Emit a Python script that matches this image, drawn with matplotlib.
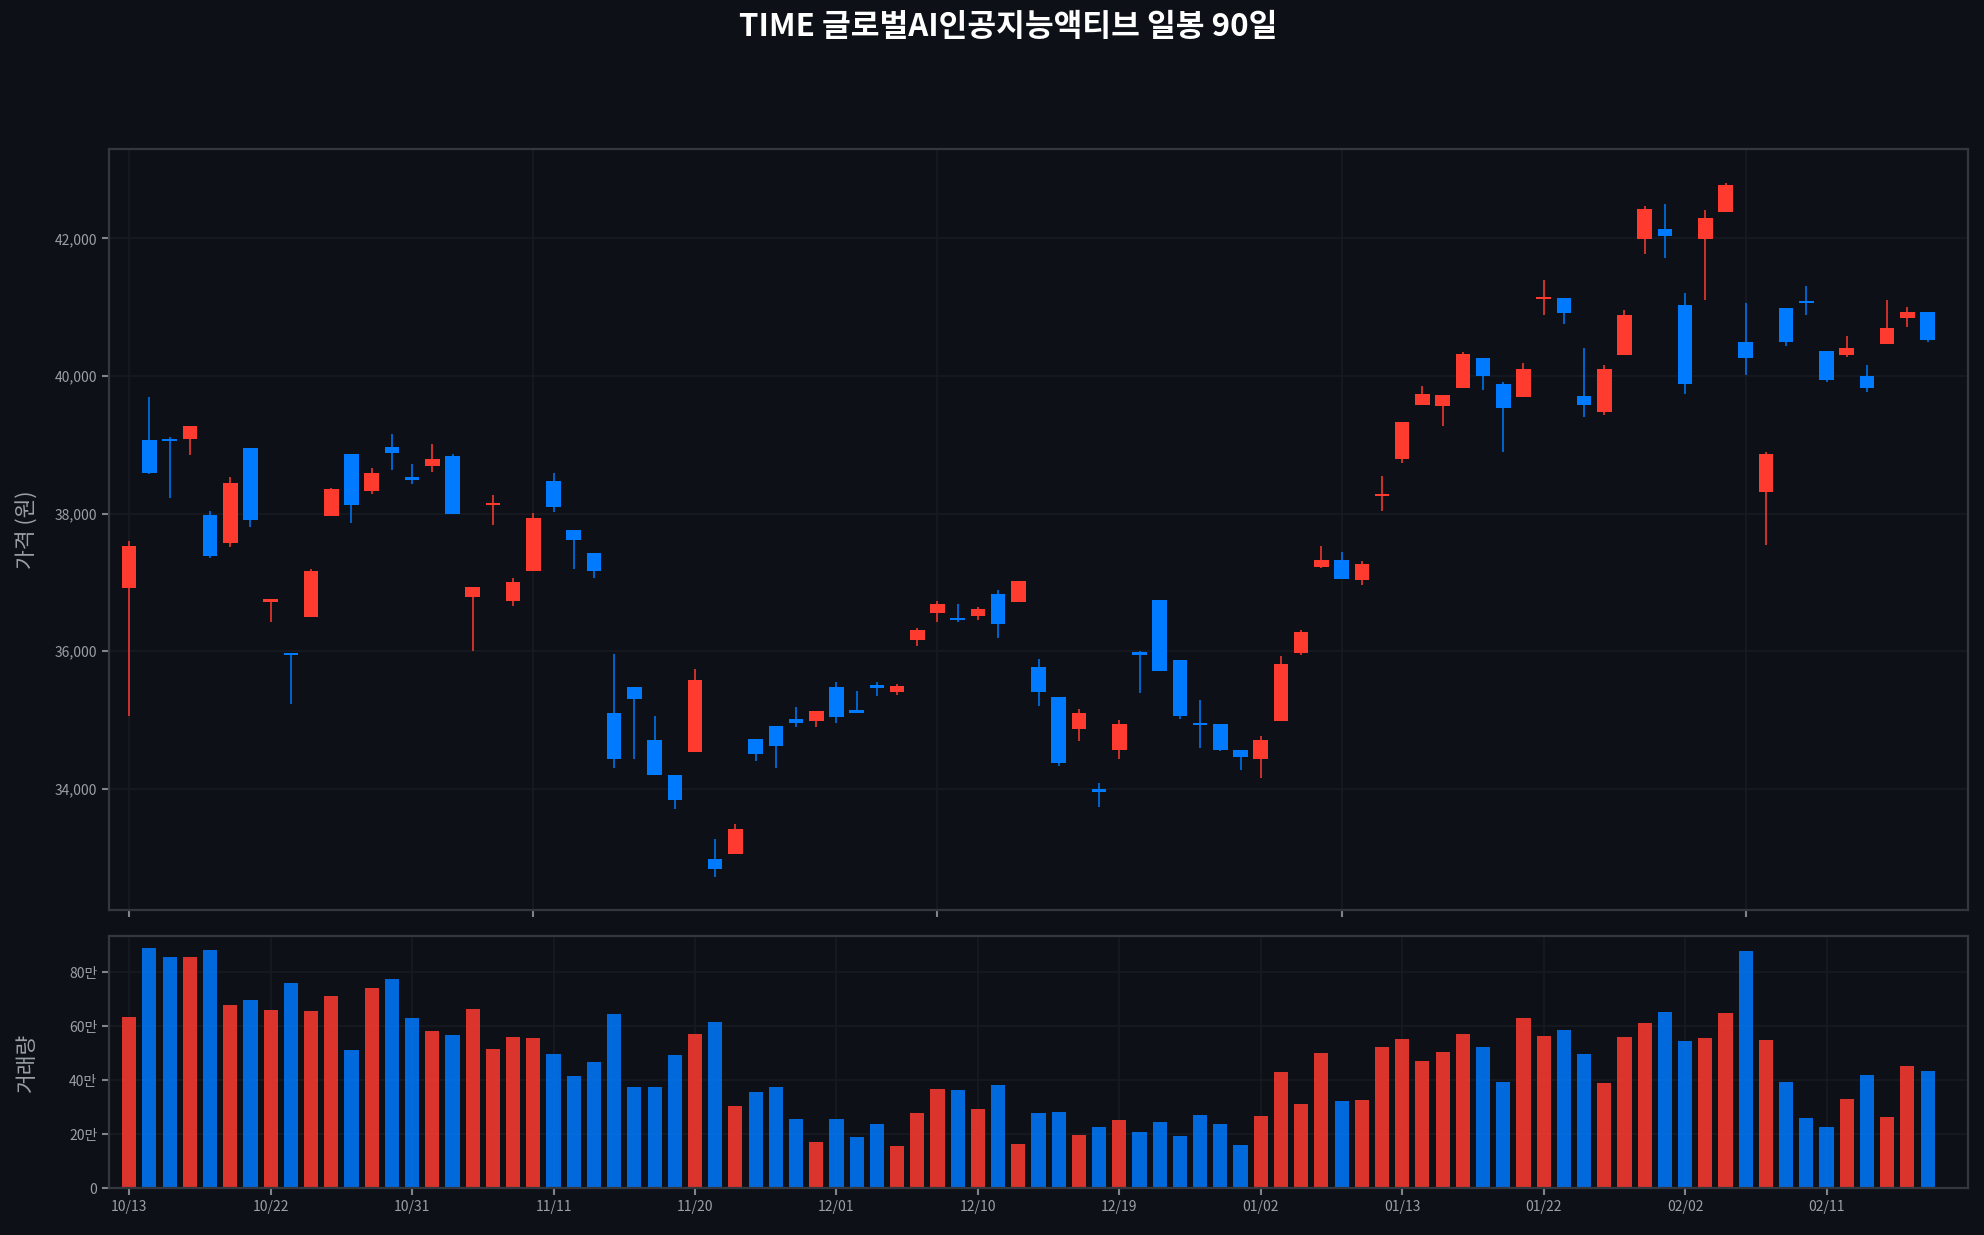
import numpy as np
import matplotlib
matplotlib.use('Agg')
import matplotlib.pyplot as plt
from matplotlib.ticker import FuncFormatter

plt.rcParams['font.family'] = ['Noto Sans CJK KR', 'DejaVu Sans']

# Daily OHLC (KRW), 90 trading days
opens = [36920, 39070, 39085, 39090, 37980, 37580, 38955, 36710, 35975, 36500,
         37970, 38870, 38330, 38970, 38540, 38700, 38840, 36790, 38120, 36730,
         37160, 38480, 37760, 37430, 35100, 35480, 34710, 34200, 34530, 32980,
         33060, 34720, 34910, 35010, 34990, 35480, 35130, 35500, 35410, 36170,
         36560, 36480, 36520, 36830, 36720, 35770, 35330, 34870, 33980, 34570,
         35970, 36740, 35870, 34950, 34940, 34560, 34440, 34990, 35970, 37230,
         37330, 37040, 38250, 38790, 39580, 39570, 39830, 40260, 39880, 39700,
         41120, 41130, 39710, 39480, 40310, 41990, 42140, 41030, 41990, 42380,
         40500, 38320, 40990, 41080, 40370, 40310, 40000, 40470, 40850, 40930]
highs = [37600, 39690, 39110, 39270, 38040, 38540, 38960, 36760, 35980, 37200,
         38380, 38870, 38670, 39160, 38720, 39010, 38870, 36930, 38270, 37070,
         38010, 38590, 37760, 37430, 35960, 35480, 35060, 34200, 35740, 33270,
         33490, 34720, 34910, 35190, 35130, 35550, 35420, 35560, 35530, 36340,
         36730, 36680, 36640, 36890, 37020, 35890, 35330, 35160, 34080, 35000,
         36000, 36740, 35870, 35290, 34940, 34560, 34770, 35930, 36310, 37530,
         37440, 37310, 38550, 39330, 39850, 39720, 40350, 40260, 39910, 40190,
         41400, 41130, 40410, 40160, 40960, 42470, 42500, 41200, 42410, 42810,
         41060, 38900, 40990, 41310, 40370, 40580, 40160, 41100, 41000, 40930]
lows = [35060, 38570, 38230, 38860, 37360, 37520, 37800, 36420, 35240, 36500,
        37970, 37860, 38280, 38640, 38430, 38600, 38000, 36010, 37840, 36660,
        37160, 38020, 37190, 37070, 34300, 34440, 34200, 33710, 34530, 32720,
        33050, 34410, 34300, 34900, 34900, 34960, 35110, 35350, 35370, 36080,
        36430, 36420, 36460, 36200, 36720, 35210, 34330, 34690, 33740, 34430,
        35390, 35720, 35010, 34600, 34550, 34270, 34160, 34990, 35950, 37210,
        37050, 36970, 38040, 38740, 39580, 39270, 39830, 39800, 38900, 39700,
        40890, 40760, 39400, 39440, 40310, 41770, 41710, 39740, 41100, 42380,
        40020, 37540, 40440, 40890, 39920, 40270, 39770, 40470, 40720, 40500]
closes = [37530, 38590, 39050, 39270, 37390, 38440, 37910, 36760, 35940, 37170,
          38360, 38120, 38590, 38880, 38490, 38800, 38000, 36930, 38140, 37000,
          37940, 38090, 37620, 37160, 34440, 35300, 34200, 33840, 35580, 32840,
          33410, 34500, 34620, 34960, 35130, 35040, 35110, 35470, 35490, 36310,
          36680, 36450, 36610, 36400, 37020, 35410, 34370, 35110, 33960, 34940,
          35950, 35720, 35060, 34930, 34570, 34470, 34710, 35820, 36280, 37330,
          37050, 37270, 38280, 39330, 39740, 39720, 40320, 40000, 39540, 40100,
          41140, 40910, 39580, 40100, 40890, 42430, 42030, 39890, 42300, 42770,
          40260, 38870, 40500, 41060, 39940, 40410, 39830, 40700, 40930, 40530]
# Volume in units of 10,000 shares (만)
volumes = [63.4, 88.9, 85.6, 85.6, 88.2, 67.8, 69.7, 66.0, 76.0, 65.6,
           71.1, 51.2, 74.1, 77.4, 63.0, 58.2, 56.7, 66.3, 51.5, 56.0,
           55.6, 49.7, 41.6, 46.7, 64.5, 37.5, 37.5, 49.3, 57.1, 61.5,
           30.5, 35.6, 37.5, 25.6, 17.1, 25.6, 19.0, 23.8, 15.7, 27.9,
           36.7, 36.4, 29.3, 38.2, 16.4, 27.9, 28.2, 19.7, 22.7, 25.3,
           20.8, 24.5, 19.4, 27.1, 23.8, 16.0, 26.8, 43.0, 31.2, 50.1,
           32.3, 32.7, 52.3, 55.2, 47.1, 50.4, 57.1, 52.3, 39.3, 63.0,
           56.4, 58.6, 49.7, 39.0, 56.0, 61.2, 65.2, 54.5, 55.6, 64.9,
           87.8, 54.9, 39.3, 26.0, 22.7, 33.0, 41.9, 26.4, 45.3, 43.4]
date_labels = ['10/13', '10/22', '10/31', '11/11', '11/20', '12/01', '12/10',
               '12/19', '01/02', '01/13', '01/22', '02/02', '02/11']

BG = '#0d1017'
UP = '#ff3b30'
DOWN = '#007aff'
GRID = '#171a21'
SPINE = '#34373d'
TXT = '#9aa0a6'

o = np.array(opens, dtype=float)
h = np.array(highs, dtype=float)
l = np.array(lows, dtype=float)
c = np.array(closes, dtype=float)
v = np.array(volumes) * 10000
x = np.arange(len(o))
up = c >= o
colors = np.where(up, UP, DOWN)

fig = plt.figure(figsize=(19.84, 12.35), dpi=100, facecolor=BG)
W, H = 1984, 1235
ax = fig.add_axes([109 / W, 1 - 910 / H, 1859 / W, 761 / H], facecolor=BG)
axv = fig.add_axes([109 / W, 1 - 1188 / H, 1859 / W, 252 / H], facecolor=BG)

# candles
ax.vlines(x, l, h, colors=colors, lw=1.3, alpha=0.85, zorder=2)
body_lo = np.minimum(o, c)
body_h = np.maximum(np.abs(c - o), 35)
ax.bar(x, body_h, bottom=body_lo, width=0.72, color=colors, lw=0, zorder=3)
ax.set_xlim(-1, 91)
ax.set_ylim(32240, 43300)
ax.set_yticks(np.arange(34000, 42001, 2000))
ax.yaxis.set_major_formatter(FuncFormatter(lambda val, pos: f'{val:,.0f}'))
ax.set_xticks(np.arange(0, 81, 20))
ax.tick_params(axis='x', labelbottom=False)
ax.set_ylabel('가격 (원)', color=TXT, fontsize=15.5)
ax.yaxis.set_label_coords(-0.038, 0.5)

# volume
axv.bar(x, v, width=0.7, color=colors, alpha=0.85, lw=0, zorder=2)
axv.set_xlim(-1, 91)
axv.set_ylim(0, v.max() * 1.05)
axv.set_yticks(np.arange(0, 800001, 200000))
axv.yaxis.set_major_formatter(
    FuncFormatter(lambda val, pos: '0' if val == 0 else f'{val / 10000:.0f}만'))
axv.set_xticks(np.arange(0, len(x), 7))
axv.set_xticklabels(date_labels)
axv.set_ylabel('거래량', color=TXT, fontsize=15.5)
axv.yaxis.set_label_coords(-0.038, 0.5)

for a in (ax, axv):
    a.grid(True, color=GRID, lw=1.2, zorder=0)
    a.set_axisbelow(True)
    a.tick_params(colors='#80848b', labelcolor=TXT, labelsize=10, length=5, width=1.5)
    for s in a.spines.values():
        s.set_color(SPINE)
        s.set_linewidth(1.6)

fig.text(0.508, 1 - 27 / H, 'TIME 글로벌AI인공지능액티브 일봉 90일', ha='center', va='center',
         fontsize=22.5, fontweight='bold', color='white')

fig.savefig('out.png', dpi=100, facecolor=BG)
